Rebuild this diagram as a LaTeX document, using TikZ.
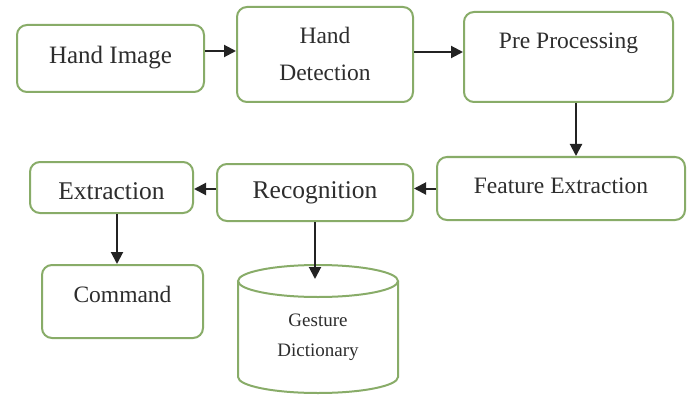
\documentclass[tikz,border=0pt]{standalone}
\usepackage{fontspec}
\setmainfont{Liberation Serif}
\usetikzlibrary{arrows.meta,calc}
\definecolor{boxgreen}{RGB}{136,172,104}
\definecolor{txt}{RGB}{45,45,45}
\definecolor{arr}{RGB}{35,35,35}
\tikzset{
  procbox/.style={draw=boxgreen, line width=2pt, rounded corners=10pt, fill=white, inner sep=0pt},
  lbl/.style={text=txt, inner sep=0pt, align=center},
  conn/.style={draw=arr, line width=2pt, -{Triangle[length=12pt,width=12pt]}},
  dbshape/.style={draw=boxgreen, line width=2pt}
}
\begin{document}
\begin{tikzpicture}[x=1pt,y=1pt]
\useasboundingbox (0,0) rectangle (692,394);
\fill[white] (0,0) rectangle (692,394);
% boxes
\node[procbox, minimum width=187pt, minimum height=67pt] (hi) at (110.5,335.5) {};
\node[lbl, font=\fontsize{25}{28}\selectfont] (hit) at (110.5,336) {Hand Image};
\node[procbox, minimum width=176pt, minimum height=95pt] (hd) at (325,339.5) {};
\node[lbl, font=\fontsize{23.5}{37}\selectfont] (hdt) at (325,340.5) {Hand\\Detection};
\node[procbox, minimum width=209pt, minimum height=90pt] (pp) at (568.5,337) {};
\node[lbl, font=\fontsize{23.5}{28}\selectfont] (ppt) at (568.5,351) {Pre Processing};
\node[procbox, minimum width=248pt, minimum height=63pt] (fe) at (561,205.5) {};
\node[lbl, font=\fontsize{23.5}{28}\selectfont] (fet) at (561,208) {Feature Extraction};
\node[procbox, minimum width=196pt, minimum height=57pt] (rec) at (315,201.5) {};
\node[lbl, font=\fontsize{25.5}{28}\selectfont] (rect) at (315,201) {Recognition};
\node[procbox, minimum width=163pt, minimum height=51pt] (ext) at (111.5,206.5) {};
\node[lbl, font=\fontsize{25.5}{28}\selectfont] (extt) at (111.5,203) {Extraction};
\node[procbox, minimum width=161pt, minimum height=73pt] (cmd) at (122.5,92.5) {};
\node[lbl, font=\fontsize{23.5}{28}\selectfont] (cmdt) at (122.5,100) {Command};
% database cylinder
\coordinate (gdtop) at (318,113);
\coordinate (gdbot) at (318,17);
\fill[white] (238,113) -- (238,17) arc (180:360:80 and 16) -- (398,113) -- cycle;
\draw[dbshape] (238,113) -- (238,17) arc (180:360:80 and 16) -- (398,113);
\draw[dbshape] (gdtop) ellipse (80 and 16);
\node[lbl, font=\fontsize{19}{30}\selectfont] (gd) at (318,57) {Gesture\\Dictionary};
% connectors
\draw[conn] ([yshift=7.5pt]hi.east) -- ([yshift=7.5pt]hi.east -| hd.west);
\draw[conn] ([yshift=2.5pt]hd.east) -- ([yshift=2.5pt]hd.east -| pp.west);
\draw[conn] ([xshift=7.5pt]pp.south) -- ([xshift=7.5pt]pp.south |- fe.north);
\draw[conn] (fe.west) -- (fe.west -| rec.east);
\draw[conn] ([yshift=3.5pt]rec.west) -- ([yshift=3.5pt]rec.west -| ext.east);
\draw[conn] ([xshift=5.5pt]ext.south) -- ([xshift=5.5pt]ext.south |- cmd.north);
\draw[conn] (rec.south) -- ($(rec.south |- gdtop)+(0,2)$);
\end{tikzpicture}
\end{document}
